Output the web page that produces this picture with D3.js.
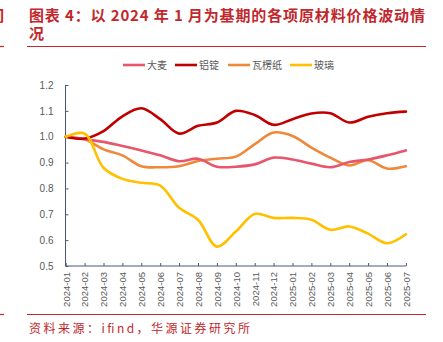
<!DOCTYPE html>
<html><head><meta charset="utf-8">
<script src="https://cdn.jsdelivr.net/npm/d3@7"></script>
<style>body{margin:0;background:#fff}svg{display:block}</style>
</head><body>
<svg id="c" width="443" height="342"></svg>
<script>
const months = ["2024-01","2024-02","2024-03","2024-04","2024-05","2024-06","2024-07","2024-08","2024-09","2024-10","2024-11","2024-12","2025-01","2025-02","2025-03","2025-04","2025-05","2025-06","2025-07"];
const barley    = [1.000,0.990,0.980,0.964,0.947,0.928,0.905,0.915,0.884,0.884,0.893,0.919,0.912,0.896,0.882,0.902,0.912,0.928,0.947];
const aluminum  = [1.000,0.993,1.022,1.079,1.110,1.068,1.012,1.042,1.055,1.100,1.084,1.046,1.068,1.090,1.091,1.055,1.077,1.091,1.097];
const paper     = [1.000,0.990,0.951,0.928,0.886,0.882,0.886,0.906,0.915,0.923,0.971,1.016,1.003,0.958,0.919,0.889,0.909,0.877,0.886];
const glass     = [1.000,1.012,0.880,0.837,0.822,0.811,0.725,0.679,0.575,0.633,0.701,0.686,0.686,0.679,0.640,0.653,0.625,0.588,0.623];
const seriesNames = ["大麦","铝锭","瓦楞纸","玻璃"];
const seriesColors = ["#E8566B","#C00000","#F0883A","#FFC000"];
const yTicks = [0.5,0.6,0.7,0.8,0.9,1.0,1.1,1.2];
const titleLines = ["图表 4：以 2024 年 1 月为基期的各项原材料价格波动情","况"];
const sourceText = "资料来源：ifind，华源证券研究所";

const svg = d3.select("#c");
const red = "#C0282D";
const font = "'Noto Sans CJK SC','Noto Sans',sans-serif";

// title (one text element, two lines)
const tt = svg.append("text").attr("fill",red).attr("font-family",font).attr("font-weight","bold").attr("font-size",15);
tt.selectAll("tspan").data(titleLines).join("tspan")
  .attr("x",29).attr("y",(d,i)=>21+i*18)
  .attr("textLength",(d,i)=>i===0?396:null).attr("lengthAdjust","spacing")
  .text(d=>d);
svg.append("line").attr("x1",27).attr("x2",426).attr("y1",46.5).attr("y2",46.5).attr("stroke",red).attr("stroke-width",1.2);
svg.append("line").attr("x1",0).attr("x2",4).attr("y1",46.5).attr("y2",46.5).attr("stroke",red).attr("stroke-width",1.2);
svg.append("line").attr("x1",27).attr("x2",426).attr("y1",314.5).attr("y2",314.5).attr("stroke",red).attr("stroke-width",1.2);
svg.append("line").attr("x1",0).attr("x2",4).attr("y1",314.5).attr("y2",314.5).attr("stroke",red).attr("stroke-width",1.2);
svg.append("text").attr("x",-11).attr("y",21).attr("fill",red).attr("font-family",font).attr("font-weight","bold").attr("font-size",15).text("间");
svg.append("text").attr("x",29).attr("y",333).attr("fill",red).attr("font-family",font).attr("font-size",12)
  .attr("textLength",221).attr("lengthAdjust","spacing").text(sourceText);

// scales
const x = d3.scalePoint().domain(months).range([65.7,405.9]);
const y = d3.scaleLinear().domain([0.5,1.2]).range([266,85]);
const axisColor = "#4A5878";

// y axis
const ya = svg.append("g").attr("transform","translate(65.5,0)")
  .call(d3.axisRight(y).tickValues(yTicks).tickSize(3).tickFormat(d3.format(".1f")));
ya.select(".domain").attr("stroke",axisColor).attr("d","M0,85V266");
ya.selectAll(".tick line").attr("stroke",axisColor);
ya.selectAll(".tick text").attr("x",-12).attr("text-anchor","end").attr("fill","#595959")
  .attr("font-family","'Liberation Sans',Arial,sans-serif").attr("font-size",10);

// x axis
const xa = svg.append("g").attr("transform","translate(0,266)")
  .call(d3.axisTop(x).tickSize(3).tickFormat(d=>d));
xa.select(".domain").attr("stroke",axisColor).attr("d","M65.7,0H405.9");
xa.selectAll(".tick line").attr("stroke",axisColor);
xa.selectAll(".tick text").attr("fill","#595959")
  .attr("font-family","'Liberation Sans',Arial,sans-serif").attr("font-size",9.5)
  .attr("transform","rotate(-90)").attr("x",-6).attr("y",0).attr("dy","0.35em").attr("text-anchor","end");

// lines
const data = [barley, aluminum, paper, glass];
const line = d3.line().x((d,i)=>x(months[i])).y(d=>y(d)).curve(d3.curveCatmullRom.alpha(0.5));
const order = [2,0,1,3];
svg.append("g").selectAll("path").data(order).join("path")
  .attr("d",k=>line(data[k])).attr("fill","none")
  .attr("stroke",k=>seriesColors[k]).attr("stroke-width",2.6)
  .attr("stroke-linejoin","round").attr("stroke-linecap","round");

// legend
const legX = [123,175,228,290];
const lg = svg.append("g").selectAll("g").data(seriesNames).join("g")
  .attr("transform",(d,i)=>`translate(${legX[i]},65)`);
lg.append("line").attr("x1",0).attr("x2",22).attr("stroke",(d,i)=>seriesColors[i]).attr("stroke-width",2.6);
lg.append("text").attr("x",24).attr("dy","0.35em").attr("fill","#595959").attr("font-family",font).attr("font-size",10).text(d=>d);
</script>
</body></html>
